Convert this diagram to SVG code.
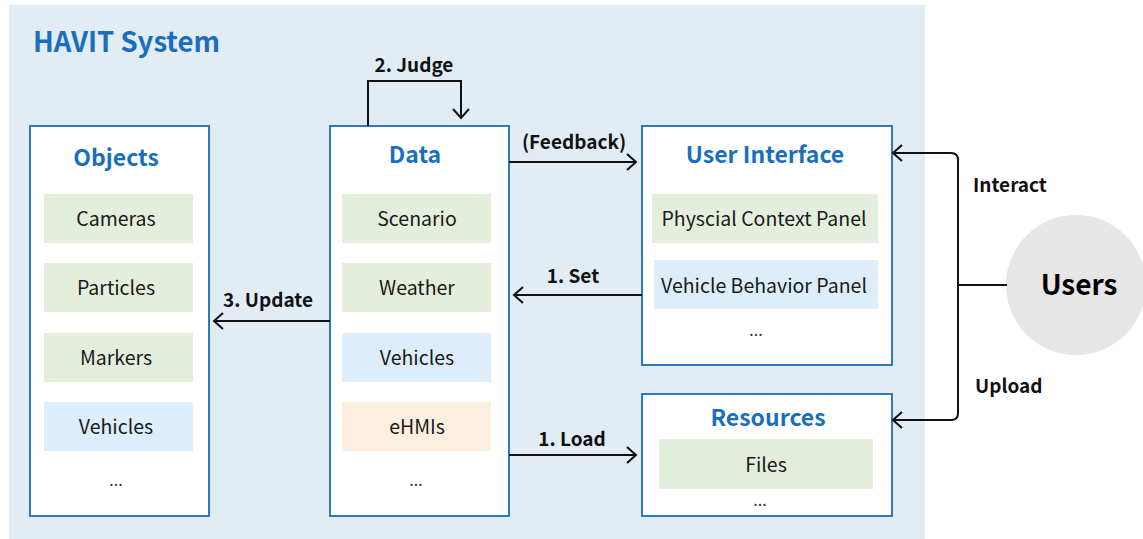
<svg xmlns="http://www.w3.org/2000/svg" width="1143" height="539" viewBox="0 0 1143 539">
  <style>
    .box { fill: #ffffff; stroke: #2e79c0; stroke-width: 2; }
    .title { font-family: "Noto Sans CJK SC", "Noto Sans", sans-serif; font-weight: 700; font-size: 23px; fill: #1a6fbd; text-anchor: middle; }
    .item { font-family: "Noto Sans CJK SC", "Noto Sans", sans-serif; font-size: 19.5px; fill: #1a1a1a; text-anchor: middle; }
    .dots { font-family: "Noto Sans CJK SC", "Noto Sans", sans-serif; font-size: 16px; fill: #333333; text-anchor: middle; }
    .label { font-family: "Noto Sans CJK SC", "Noto Sans", sans-serif; font-weight: 700; font-size: 19px; fill: #111111; }
    .green { fill: #e3efdc; }
    .blue { fill: #ddedf9; }
    .orange { fill: #fdefe0; }
    .conn { fill: none; stroke: #111111; stroke-width: 2; }
  </style>
  <defs>
    <marker id="arrow" markerUnits="userSpaceOnUse" markerWidth="14" markerHeight="20" viewBox="-12 -10 14 20" refX="0" refY="0" orient="auto">
      <path d="M-9,-8 L0,0 L-9,8" fill="none" stroke="#111111" stroke-width="2"/>
    </marker>
  </defs>

  <rect width="1143" height="539" fill="#ffffff"/>
  <!-- system boundary -->
  <rect x="9" y="5" width="916" height="534" fill="#e2ecf5"/>
  <text x="33" y="52" font-family="Noto Sans CJK SC, Noto Sans, sans-serif" font-weight="700" font-size="27.5" fill="#1a6fbd">HAVIT System</text>

  <g id="objects">
    <rect class="box" x="30" y="126" width="179" height="390"/>
    <text class="title" x="116" y="166">Objects</text>
    <rect class="green" x="44" y="194" width="149" height="49"/>
    <text class="item" x="116" y="226">Cameras</text>
    <rect class="green" x="44" y="263" width="149" height="49"/>
    <text class="item" x="116" y="295">Particles</text>
    <rect class="green" x="44" y="333" width="149" height="49"/>
    <text class="item" x="116" y="365">Markers</text>
    <rect class="blue" x="44" y="402" width="149" height="49"/>
    <text class="item" x="116" y="434">Vehicles</text>
    <text class="dots" x="116" y="486">...</text>
  </g>

  <g id="data">
    <rect class="box" x="330" y="126" width="179" height="390"/>
    <text class="title" x="415" y="163">Data</text>
    <rect class="green" x="342" y="194" width="149" height="49"/>
    <text class="item" x="417" y="226">Scenario</text>
    <rect class="green" x="342" y="263" width="149" height="49"/>
    <text class="item" x="417" y="295">Weather</text>
    <rect class="blue" x="342" y="333" width="149" height="49"/>
    <text class="item" x="417" y="365">Vehicles</text>
    <rect class="orange" x="342" y="402" width="149" height="49"/>
    <text class="item" x="417" y="434">eHMIs</text>
    <text class="dots" x="416" y="486">...</text>
  </g>

  <g id="user-interface">
    <rect class="box" x="642" y="126" width="250" height="239"/>
    <text class="title" x="765" y="163">User Interface</text>
    <rect class="green" x="652" y="194" width="226" height="49"/>
    <text class="item" x="764" y="226">Physcial Context Panel</text>
    <rect class="blue" x="654" y="260" width="224" height="49"/>
    <text class="item" x="764" y="293">Vehicle Behavior Panel</text>
    <text class="dots" x="756" y="336">...</text>
  </g>

  <g id="resources">
    <rect class="box" x="642" y="394" width="250" height="122"/>
    <text class="title" x="768" y="426">Resources</text>
    <rect class="green" x="659" y="439" width="214" height="50"/>
    <text class="item" x="766" y="472">Files</text>
    <text class="dots" x="760" y="506">...</text>
  </g>

  <g id="users">
    <circle cx="1076" cy="285" r="70" fill="#e6e6e6"/>
    <text x="1079" y="295" font-family="Noto Sans CJK SC, Noto Sans, sans-serif" font-weight="700" font-size="28" fill="#000000" text-anchor="middle">Users</text>
  </g>

  <g id="connectors">
    <!-- 2. Judge: self loop on Data -->
    <path class="conn" d="M368,126 V81 H461 V118" marker-end="url(#arrow)"/>
    <text class="label" x="414" y="72" text-anchor="middle">2. Judge</text>
    <!-- (Feedback): Data to User Interface -->
    <path class="conn" d="M509,162 H636" marker-end="url(#arrow)"/>
    <text class="label" x="574" y="149" text-anchor="middle">(Feedback)</text>
    <!-- 1. Set: User Interface to Data -->
    <path class="conn" d="M642,295 H514" marker-end="url(#arrow)"/>
    <text class="label" x="573" y="283" text-anchor="middle">1. Set</text>
    <!-- 3. Update: Data to Objects -->
    <path class="conn" d="M330,321 H214" marker-end="url(#arrow)"/>
    <text class="label" x="268" y="307" text-anchor="middle">3. Update</text>
    <!-- 1. Load: Data to Resources -->
    <path class="conn" d="M509,455 H636" marker-end="url(#arrow)"/>
    <text class="label" x="572" y="446" text-anchor="middle">1. Load</text>
    <!-- Users bus: Interact / Upload -->
    <path class="conn" d="M1007,285 H958"/>
    <path class="conn" d="M958,285 V160 Q958,153 951,153 H893" marker-end="url(#arrow)"/>
    <path class="conn" d="M958,285 V413 Q958,420 951,420 H893" marker-end="url(#arrow)"/>
    <text class="label" x="973" y="192">Interact</text>
    <text class="label" x="975" y="393">Upload</text>
  </g>
</svg>
